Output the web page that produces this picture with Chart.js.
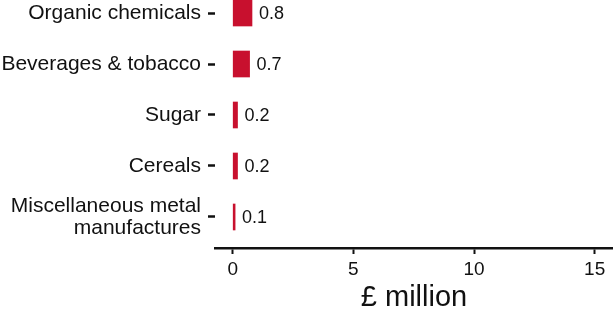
<!DOCTYPE html>
<html>
<head>
<meta charset="utf-8">
<script src="https://cdn.jsdelivr.net/npm/chart.js@4"></script>
<style>
  html, body { margin: 0; padding: 0; background: #fff; }
  #wrap { width: 613px; height: 312px; position: relative; }
</style>
</head>
<body>
<div id="wrap"><canvas id="chart"></canvas></div>
<script>
// categories, top to bottom
const categories = [
  'Organic chemicals',
  'Beverages & tobacco',
  'Sugar',
  'Cereals',
  ['Miscellaneous metal', 'manufactures']
];
const values = [0.8, 0.7, 0.2, 0.2, 0.1];
const valueLabels = ['0.8', '0.7', '0.2', '0.2', '0.1'];
const xTicks = [0, 5, 10, 15];

const barColor = '#c8102e';
const textColor = '#111';
const fontFamily = "'Liberation Sans', Arial, sans-serif";

// write the value next to each bar
const valueLabelPlugin = {
  id: 'valueLabels',
  afterDatasetsDraw(chart) {
    const ctx = chart.ctx;
    const meta = chart.getDatasetMeta(0);
    ctx.save();
    ctx.font = '18px ' + fontFamily;
    ctx.fillStyle = textColor;
    ctx.textAlign = 'left';
    ctx.textBaseline = 'middle';
    meta.data.forEach((bar, i) => {
      ctx.fillText(valueLabels[i], bar.x + 7, bar.y + 1);
    });
    ctx.restore();
  }
};

new Chart(document.getElementById('chart'), {
  type: 'bar',
  data: {
    datasets: [{
      data: values.map((v, i) => ({ x: v, y: i })),
      backgroundColor: barColor,
      borderWidth: 0,
      barThickness: 26
    }]
  },
  options: {
    indexAxis: 'y',
    responsive: true,
    maintainAspectRatio: false,
    animation: false,
    layout: { padding: 0 },
    plugins: {
      legend: { display: false },
      tooltip: { enabled: false }
    },
    scales: {
      x: {
        type: 'linear',
        min: -0.733,
        max: 15.76,
        afterBuildTicks: (scale) => { scale.ticks = xTicks.map(v => ({ value: v })); },
        afterFit: (scale) => { scale.height = 64; },
        grid: {
          drawOnChartArea: false,
          drawTicks: true,
          tickLength: 6,
          tickWidth: 2,
          tickColor: textColor
        },
        border: { display: true, color: textColor, width: 2.5 },
        ticks: {
          color: textColor,
          padding: 4,
          maxRotation: 0,
          font: { family: fontFamily, size: 19 }
        },
        title: {
          display: true,
          text: '£ million',
          color: textColor,
          padding: { top: 0, bottom: 0 },
          font: { family: fontFamily, size: 29, lineHeight: 1.0 }
        }
      },
      y: {
        type: 'linear',
        reverse: true,
        offset: false,
        min: -0.255,
        max: 4.608,
        afterBuildTicks: (scale) => { scale.ticks = categories.map((c, i) => ({ value: i })); },
        afterFit: (scale) => {
          scale.width = 215;
          // labels may run past the plot edges, keep the plot full height
          scale.paddingTop = 0;
          scale.paddingBottom = 0;
        },
        grid: {
          offset: false,
          drawOnChartArea: false,
          drawTicks: true,
          tickLength: 7,
          tickWidth: 2.5,
          tickColor: textColor
        },
        border: { display: false },
        ticks: {
          color: textColor,
          padding: 7,
          autoSkip: false,
          callback: (v) => categories[v],
          font: { family: fontFamily, size: 21, lineHeight: 1.05 }
        }
      }
    }
  },
  plugins: [valueLabelPlugin]
});
</script>
</body>
</html>
